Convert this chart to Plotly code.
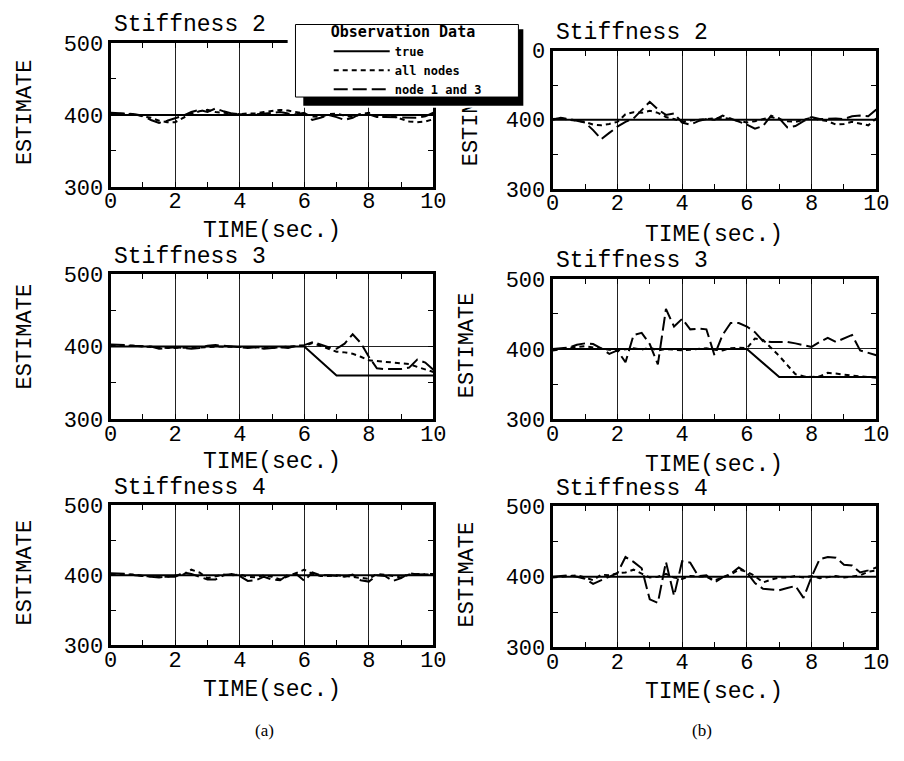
import plotly.graph_objects as go
from plotly.subplots import make_subplots

W, H = 904, 761

# ---------------- data ----------------
time = [0, 0.25, 0.5, 0.75, 1, 1.25, 1.5, 1.75, 2, 2.25, 2.5, 2.75, 3, 3.25, 3.5, 3.75,
        4, 4.25, 4.5, 4.75, 5, 5.25, 5.5, 5.75, 6, 6.25, 6.5, 6.75, 7, 7.25, 7.5, 7.75,
        8, 8.25, 8.5, 8.75, 9, 9.25, 9.5, 9.75, 10]

true_t_const = [0, 10]
true_const = [400, 400]
true_t_s3 = [0, 6, 7, 10]
true_s3 = [400, 400, 360, 360]

# (a) Stiffness 2
a_s2_all = [402, 402, 402, 401, 398, 396, 392, 390, 390, 396, 402, 405, 407, 404, 403, 402,
            401, 402, 402, 404, 406, 407, 406, 404, 402, 398, 397, 401, 402, 399, 397, 401,
            403, 398, 397, 398, 394, 391, 390, 391, 394]
a_s2_n13 = [403, 403, 402, 401, 399, 393, 389, 392, 395, 399, 404, 407, 404, 409, 405, 402,
            401, 400, 401, 402, 403, 404, 402, 401, 403, 393, 396, 400, 397, 393, 396, 402,
            401, 397, 397, 397, 397, 396, 396, 398, 403]
# (b) Stiffness 2
b_s2_all = [401, 402, 400, 399, 397, 393, 392, 394, 397, 408, 411, 410, 413, 410, 404, 401,
            397, 399, 400, 401, 402, 403, 401, 399, 396, 398, 401, 404, 401, 398, 397, 400,
            403, 400, 398, 393, 394, 397, 395, 392, 402]
b_s2_n13 = [400, 403, 401, 399, 396, 385, 372, 381, 390, 397, 402, 414, 426, 415, 407, 409,
            396, 393, 398, 401, 400, 406, 402, 397, 393, 387, 391, 406, 402, 389, 391, 398,
            404, 401, 402, 402, 401, 405, 406, 405, 415]
# (a) Stiffness 3
a_s3_all = [402, 402, 401, 401, 400, 400, 399, 398, 398, 398, 398, 398, 399, 400, 400, 400,
            400, 399, 399, 398, 398, 399, 400, 401, 401, 405, 401, 396, 393, 392, 390, 386,
            381, 380, 379, 378, 376, 376, 372, 368, 365]
a_s3_n13 = [403, 403, 402, 401, 401, 400, 397, 398, 399, 398, 397, 398, 401, 402, 401, 401,
            400, 398, 399, 397, 398, 399, 398, 401, 402, 406, 403, 399, 397, 404, 417, 405,
            386, 370, 369, 369, 369, 371, 382, 378, 368]
# (b) Stiffness 3
b_s3_all = [398, 400, 401, 403, 404, 402, 400, 399, 398, 400, 401, 399, 402, 398, 400, 399,
            398, 399, 400, 401, 399, 398, 401, 402, 401, 415, 413, 402, 390, 377, 364, 361,
            360, 361, 366, 365, 363, 362, 361, 360, 359]
b_s3_n13 = [400, 401, 402, 406, 408, 407, 401, 393, 398, 381, 420, 423, 407, 378, 457, 432,
            443, 428, 429, 428, 391, 420, 437, 437, 432, 424, 411, 410, 410, 410, 408, 405,
            403, 410, 416, 410, 415, 420, 398, 394, 391]
# (a) Stiffness 4
a_s4_all = [402, 402, 402, 401, 399, 398, 398, 398, 399, 401, 408, 404, 396, 398, 401, 400,
            401, 398, 397, 400, 398, 394, 399, 404, 408, 402, 399, 399, 400, 399, 398, 397,
            395, 402, 401, 399, 397, 401, 402, 402, 401]
a_s4_n13 = [403, 403, 402, 400, 399, 399, 397, 398, 398, 404, 402, 398, 394, 394, 400, 402,
            399, 392, 393, 398, 394, 393, 401, 402, 392, 404, 400, 400, 399, 398, 401, 393,
            391, 400, 399, 392, 396, 403, 401, 401, 402]
# (b) Stiffness 4
b_s4_all = [399, 400, 401, 402, 399, 395, 403, 402, 405, 406, 410, 404, 399, 400, 404, 399,
            397, 401, 401, 400, 395, 399, 403, 410, 407, 401, 392, 396, 399, 399, 401, 399,
            401, 398, 400, 401, 399, 401, 402, 407, 409]
b_s4_n13 = [400, 401, 402, 400, 397, 390, 395, 399, 405, 428, 421, 412, 368, 363, 421, 373,
            422, 420, 401, 402, 392, 399, 404, 413, 406, 391, 383, 382, 381, 384, 387, 370,
            400, 425, 428, 427, 417, 416, 406, 409, 413]

panel_titles = ["Stiffness 2", "Stiffness 2", "Stiffness 3", "Stiffness 3", "Stiffness 4", "Stiffness 4"]
series_names = ["true", "all nodes", "node 1 and 3"]
x_ticks = [0, 2, 4, 6, 8, 10]
y_ticks = [300, 400, 500]
x_title = "TIME(sec.)"
y_title = "ESTIMATE"
col_labels = ["(a)", "(b)"]
legend_title = "Observation Data"

panels = [
    (true_t_const, true_const, a_s2_all, a_s2_n13),
    (true_t_const, true_const, b_s2_all, b_s2_n13),
    (true_t_s3, true_s3, a_s3_all, a_s3_n13),
    (true_t_s3, true_s3, b_s3_all, b_s3_n13),
    (true_t_const, true_const, a_s4_all, a_s4_n13),
    (true_t_const, true_const, b_s4_all, b_s4_n13),
]

# ---------------- layout geometry (pixels) ----------------
boxes = [  # left, right, top, bottom
    (106, 436, 34, 183),
    (558, 889, 42, 185),
    (106, 436, 273, 423),
    (558, 889, 278, 423),
    (106, 436, 512, 657),
    (558, 889, 513, 659),
]
xtitle_y = [228, 233, 467, 470, 703, 705]
ytitle_y = [106, 107, 338, 347, 582, 584]

def fx(p):
    return p / W

def fy(p):
    return 1 - p / H

MONO = "Liberation Mono, Courier New, monospace"
LEG = "DejaVu Sans Mono, monospace"
SERIF = "Liberation Serif, Times New Roman, serif"

fig = make_subplots(rows=3, cols=2)

dash_all = "5px,4px"
dash_n13 = "14px,5px"

for i, (tt, ty, s_all, s_n13) in enumerate(panels):
    r, c = i // 2 + 1, i % 2 + 1
    first = (i == 0)
    fig.add_trace(go.Scatter(x=tt, y=ty, mode="lines", name=series_names[0],
                             line=dict(color="black", width=2), legendgroup="t",
                             showlegend=first, hoverinfo="skip"), row=r, col=c)
    fig.add_trace(go.Scatter(x=time, y=s_all, mode="lines", name=series_names[1],
                             line=dict(color="black", width=2, dash=dash_all), legendgroup="a",
                             showlegend=first, hoverinfo="skip"), row=r, col=c)
    fig.add_trace(go.Scatter(x=time, y=s_n13, mode="lines", name=series_names[2],
                             line=dict(color="black", width=2, dash=dash_n13), legendgroup="n",
                             showlegend=first, hoverinfo="skip"), row=r, col=c)

axis_common = dict(showline=True, linewidth=3, linecolor="black", mirror="ticks",
                   ticks="inside", ticklen=5, tickwidth=1, tickcolor="black",
                   showgrid=True, gridcolor="#222222", gridwidth=1, zeroline=False,
                   tickfont=dict(family=MONO, size=22, color="black"), fixedrange=True)

annotations = []
title_shapes = []
for i, (l, rgt, top, bot) in enumerate(boxes):
    n = "" if i == 0 else str(i + 1)
    fig.layout["xaxis" + n].update(domain=[fx(l), fx(rgt)], range=[0, 10], tickvals=x_ticks,
                                   ticklabelstandoff=-8,
                                   minor=dict(dtick=1, tick0=0, ticks="inside", ticklen=5,
                                              tickcolor="black", showgrid=False),
                                   **axis_common)
    fig.layout["yaxis" + n].update(domain=[fy(bot), fy(top)], range=[300, 500], tickvals=y_ticks,
                                   minor=dict(dtick=50, tick0=300, ticks="inside", ticklen=5,
                                              tickcolor="black", showgrid=False),
                                   **axis_common)
    annotations.append(dict(text=panel_titles[i], x=fx(l + 1), y=fy(top - 18), xref="paper", yref="paper",
                            xanchor="left", yanchor="middle", showarrow=False,
                            font=dict(family=MONO, size=23, color="black")))
    annotations.append(dict(text=x_title, x=fx((l + rgt) / 2), y=fy(xtitle_y[i]), xref="paper", yref="paper",
                            xanchor="center", yanchor="middle", showarrow=False,
                            font=dict(family=MONO, size=23, color="black")))
    if i == 1:
        # drawn in the shape layer so that the legend box can hide its upper part
        title_shapes.append(dict(type="rect", xref="paper", yref="paper",
                                 x0=fx(l - 87 - 14), x1=fx(l - 87 + 14),
                                 y0=fy(ytitle_y[i] + 60), y1=fy(ytitle_y[i] - 60),
                                 fillcolor="rgba(0,0,0,0)", line=dict(width=0), layer="above",
                                 label=dict(text=y_title, textangle=-90, textposition="middle center",
                                            font=dict(family=MONO, size=22, color="black"))))
    else:
        annotations.append(dict(text=y_title, x=fx(l - 87), y=fy(ytitle_y[i]), xref="paper", yref="paper",
                                xanchor="center", yanchor="middle", showarrow=False, textangle=-90,
                                font=dict(family=MONO, size=22, color="black")))

annotations.append(dict(text=col_labels[0], x=fx(263), y=fy(745), xref="paper", yref="paper",
                        xanchor="center", yanchor="middle",
                        showarrow=False, font=dict(family=SERIF, size=17, color="black")))
annotations.append(dict(text=col_labels[1], x=fx(711), y=fy(745), xref="paper", yref="paper",
                        xanchor="center", yanchor="middle",
                        showarrow=False, font=dict(family=SERIF, size=17, color="black")))

shapes = title_shapes + [
    # blank area around the legend box
    dict(type="rect", xref="paper", yref="paper", x0=fx(287), x1=fx(537), y0=fy(101), y1=fy(8),
         fillcolor="white", line=dict(width=0), layer="above"),
    # drop shadow
    dict(type="rect", xref="paper", yref="paper", x0=fx(303), x1=fx(528), y0=fy(99), y1=fy(20),
         fillcolor="black", line=dict(width=0), layer="above"),
    # legend frame
    dict(type="rect", xref="paper", yref="paper", x0=fx(295), x1=fx(523), y0=fy(90), y1=fy(15),
         fillcolor="white", line=dict(width=1, color="black"), layer="above"),
]

fig.update_layout(
    width=W, height=H, margin=dict(l=0, r=0, t=0, b=0),
    paper_bgcolor="white", plot_bgcolor="white",
    annotations=annotations, shapes=shapes,
    showlegend=True,
    legend=dict(x=fx(329), y=fy(7.5), xanchor="left", yanchor="top",
                bgcolor="rgba(0,0,0,0)", borderwidth=0,
                font=dict(family=LEG, size=12, color="black", weight="bold"),
                title=dict(text=legend_title, side="top",
                           font=dict(family=LEG, size=15, color="black", weight="bold")),
                itemwidth=56, tracegroupgap=0, itemclick=False, itemdoubleclick=False),
)

post = """
document.body.style.margin = '0';
"""

fig.write_html("out.html", post_script=post, config={"displayModeBar": False})
